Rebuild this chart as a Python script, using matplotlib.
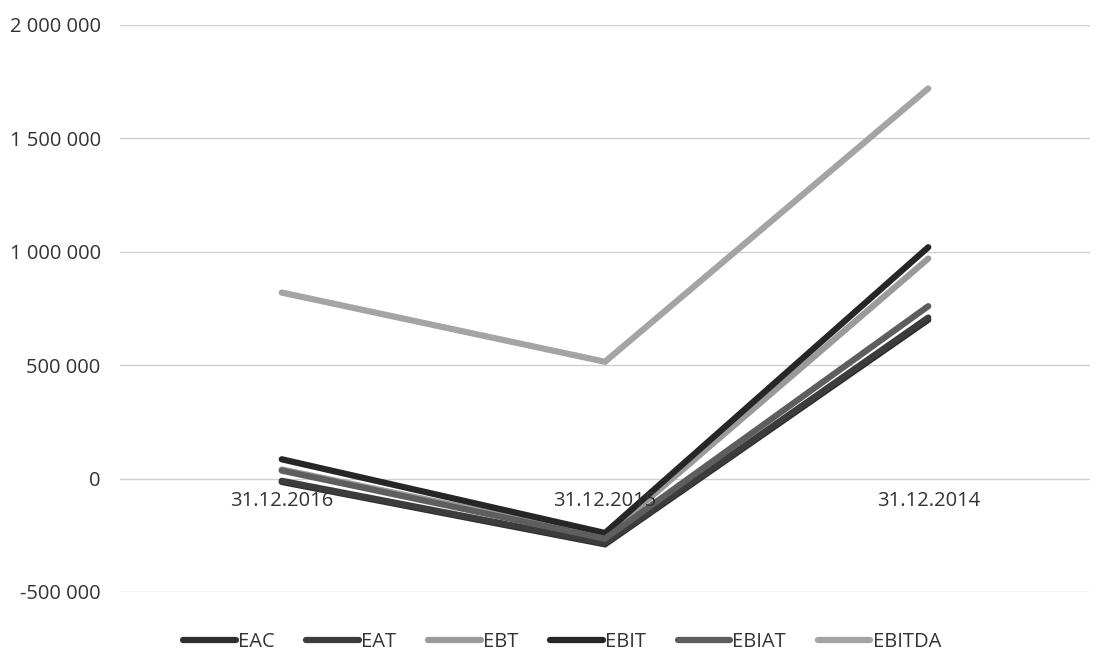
import matplotlib.pyplot as plt
import matplotlib.ticker as mticker

plt.rcParams['font.family'] = ['Open Sans', 'DejaVu Sans']

dates = ["31.12.2016", "31.12.2015", "31.12.2014"]
eac = [-15000, -290000, 700000]
eat = [-10000, -285000, 710000]
ebt = [40000, -255000, 970000]
ebit = [85000, -240000, 1020000]
ebiat = [35000, -265000, 760000]
ebitda = [820000, 515000, 1720000]

series = [
    ("EAC", eac, "#2e2e2e"),
    ("EAT", eat, "#3c3c3c"),
    ("EBT", ebt, "#9a9a9a"),
    ("EBIT", ebit, "#262626"),
    ("EBIAT", ebiat, "#5e5e5e"),
    ("EBITDA", ebitda, "#a4a4a4"),
]

fig = plt.figure(figsize=(11.02, 6.57), dpi=100)
ax = fig.add_axes([0.109, 0.099, 0.88, 0.863])

x = list(range(len(dates)))
for name, vals, col in series:
    ax.plot(x, vals, color=col, lw=4.5, solid_capstyle='round',
            solid_joinstyle='miter', label=name)

ax.set_xlim(-0.5, len(dates) - 0.5)
ax.set_ylim(-500000, 2000000)
ax.yaxis.set_major_locator(mticker.MultipleLocator(500000))
ax.yaxis.set_major_formatter(mticker.FuncFormatter(
    lambda v, p: f"{int(v):,}".replace(",", " ")))
ax.grid(axis='y', color='#d0d0d0', lw=1)
ax.set_axisbelow(True)
ax.tick_params(axis='y', length=0, labelsize=14.5, labelcolor='#333333', pad=14)
ax.set_xticks([])
for s in ax.spines.values():
    s.set_visible(False)

for i, d in enumerate(dates):
    ax.text(i, -55000, d, ha='center', va='top', fontsize=14.5, color='#333333')

fig.legend(loc='lower center', ncol=6, frameon=False, fontsize=14.5,
           bbox_to_anchor=(0.51, -0.02), handlelength=2.6, handletextpad=0.1,
           columnspacing=1.6, labelcolor='#333333')

fig.savefig("out.png", dpi=100)
